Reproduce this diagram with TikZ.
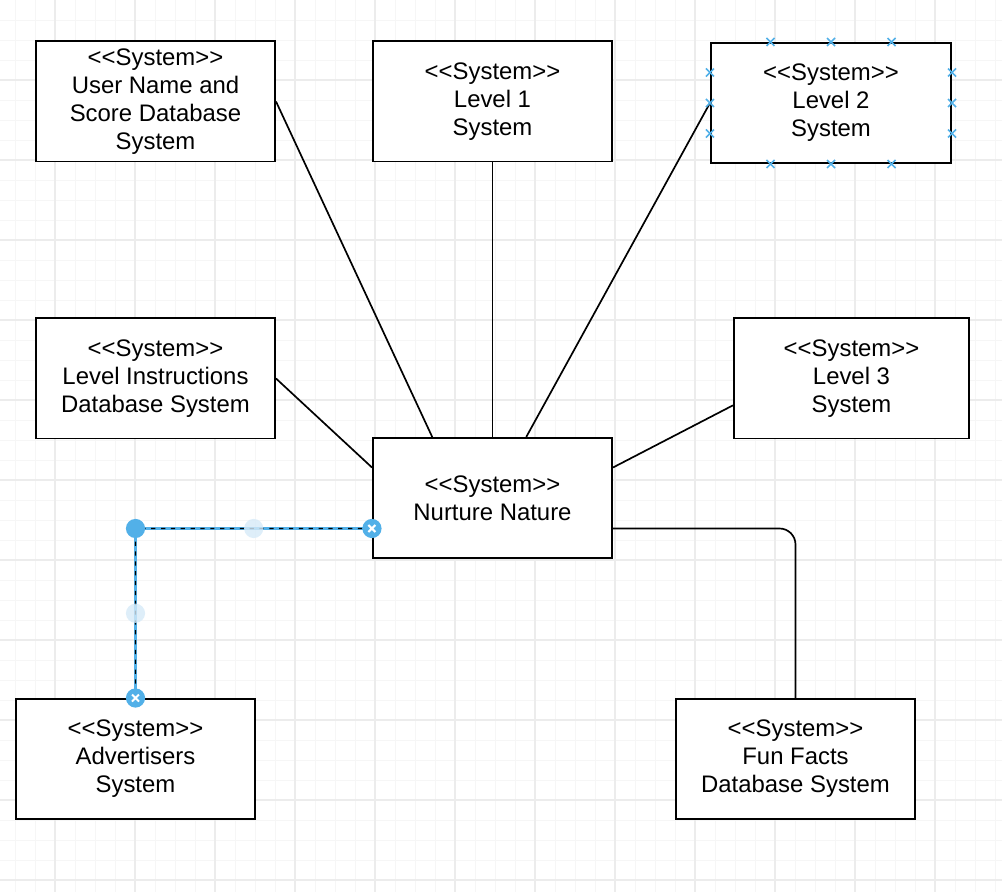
\documentclass[tikz,border=0pt]{standalone}
\usepackage{fontspec}
\newfontfamily\boxfont{Liberation Sans}
\usetikzlibrary{calc}
\definecolor{selblue}{RGB}{82,176,232}
\definecolor{selpale}{RGB}{214,234,248}
\definecolor{gridminor}{RGB}{246,246,246}
\definecolor{gridmajor}{RGB}{236,236,236}

\begin{document}
\begin{tikzpicture}[x=0.025cm, y=-0.025cm, line width=1.2pt,
		sys/.style={draw, fill=white, line width=1.4pt, minimum width=5.975cm, minimum height=3cm, inner sep=0pt, align=center, font=\boxfont\fontsize{17}{19.9}\selectfont},
		link/.style={draw, black, line width=1.2pt},
		minorline/.style={gridminor, line width=0.7pt},
		majorline/.style={gridmajor, line width=0.8pt},
		xmark/.style={selblue, line width=1.1pt}]
		\useasboundingbox (0,0) rectangle (1002,892);
		
		% background grid
		\foreach \gx in {15,35,...,1000} \draw[minorline] (\gx,0) -- (\gx,892);
		\foreach \gy in {20,40,...,880} \draw[minorline] (0,\gy) -- (1002,\gy);
		\foreach \gx in {55,135,...,1000} \draw[majorline] (\gx,0) -- (\gx,892);
		\foreach \gy in {80,160,...,880} \draw[majorline] (0,\gy) -- (1002,\gy);
		
		\node[sys] (users) at (155.5, 101.5) {<<System>>\\User Name and\\Score Database\\System};
		\node[sys] (l1) at (492.5, 101.5) {<<System>>\\Level 1\\System};
		\node[sys, minimum width=6cm] (l2) at (831, 103) {<<System>>\\Level 2\\System};
		
		\node[sys] (instr) at (155.5, 378.5) {<<System>>\\Level Instructions\\Database System};
		\node[sys, minimum width=5.875cm] (l3) at (851.5, 378.5) {<<System>>\\Level 3\\System};
		
		\node[sys] (nn) at (492.5, 498) {<<System>>\\Nurture Nature};
		
		\node[sys] (ads) at (135.5, 759) {<<System>>\\Advertisers\\System};
		\node[sys] (facts) at (795.5, 759) {<<System>>\\Fun Facts\\Database System};
		
		\coordinate (nnA) at ($(nn.north west)!0.25!(nn.north east)$);
		\coordinate (nnB) at ($(nn.north west)!0.64!(nn.north east)$);
		\coordinate (nnL) at ($(nn.north west)!0.25!(nn.south west)$);
		\coordinate (nnR) at ($(nn.north east)!0.25!(nn.south east)$);
		\coordinate (nnLL) at ($(nn.north west)!0.75!(nn.south west)$);
		\coordinate (nnRR) at ($(nn.north east)!0.75!(nn.south east)$);
		\coordinate (l3W) at ($(l3.north west)!0.72!(l3.south west)$);
		\coordinate (bend) at (ads.north |- nnLL);
		
		\path[link] (users.east) -- (nnA);
		\path[link] (l1.south) -- (nn.north);
		\path[link] (l2.west) -- (nnB);
		\path[link] (instr.east) -- (nnL);
		\path[link] (l3W) -- (nnR);
		\path[link, rounded corners=0.4cm] (nnRR) -| (facts.north);
		
		% selected edge
		\draw[selblue, line width=1.8pt, rounded corners=0.2cm] (nnLL) -| (ads.north);
		\draw[black, line width=1pt, dash pattern=on 3pt off 4pt, rounded corners=0.2cm] (nnLL) -| (ads.north);
		\fill[selpale, opacity=0.8] ($(bend)!0.5!(nnLL)$) circle (0.24cm);
		\fill[selpale, opacity=0.8] ($(bend)!0.5!(ads.north)$) circle (0.24cm);
		\fill[selblue] (bend) circle (0.24cm);
		\foreach \p in {nnLL, ads.north} {
			\fill[selblue] (\p) circle (0.24cm);
			\draw[white, line width=1.5pt] (\p) ++(-3.5,-3.5) -- ++(7,7) ++(0,-7) -- ++(-7,7);
		}
		
		% connection points of the selected box
		\foreach \f in {0.25,0.5,0.75} {
			\draw[xmark] ($(l2.north west)!\f!(l2.north east)$) ++(-4,-4) -- ++(8,8) ++(0,-8) -- ++(-8,8);
			\draw[xmark] ($(l2.south west)!\f!(l2.south east)$) ++(-4,-4) -- ++(8,8) ++(0,-8) -- ++(-8,8);
			\draw[xmark] ($(l2.north west)!\f!(l2.south west)$) ++(-4,-4) -- ++(8,8) ++(0,-8) -- ++(-8,8);
			\draw[xmark] ($(l2.north east)!\f!(l2.south east)$) ++(-4,-4) -- ++(8,8) ++(0,-8) -- ++(-8,8);
		}
	\end{tikzpicture}
\end{document}
